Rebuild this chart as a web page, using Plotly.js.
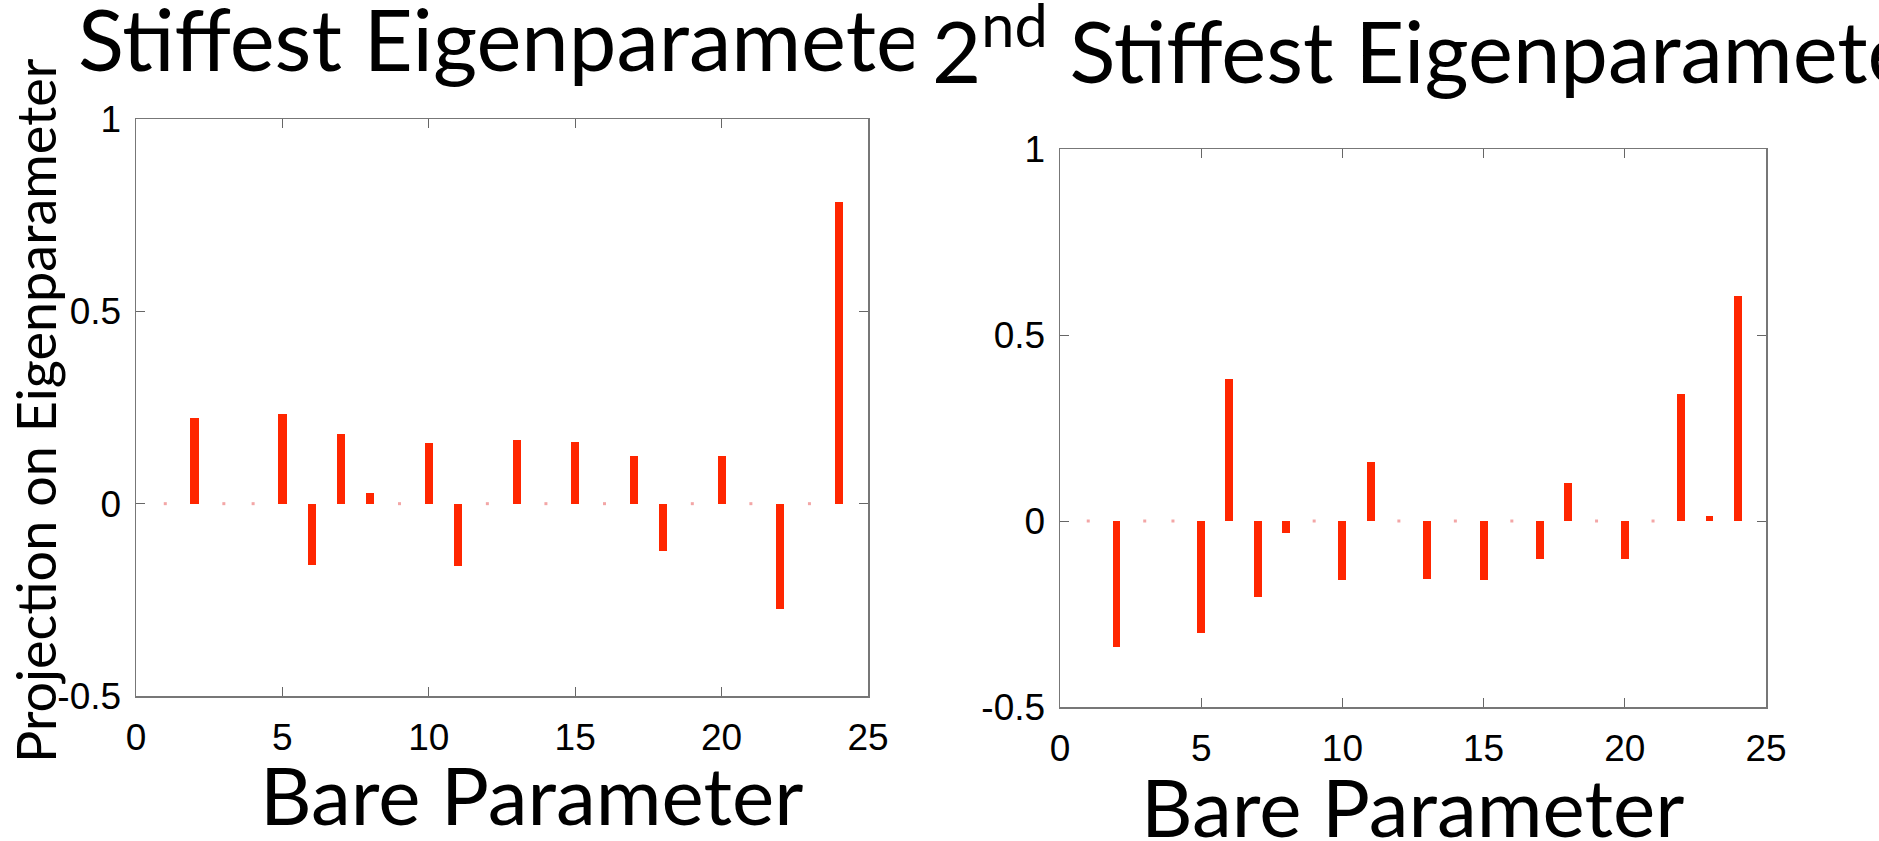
<!DOCTYPE html>
<html>
<head>
<meta charset="utf-8">
<script src="https://cdn.plot.ly/plotly-3.0.1.min.js"></script>
<style>html,body{margin:0;padding:0;background:#fff;}#chart{width:1879px;height:841px;}</style>
</head>
<body>
<div id="chart"></div>
<script>
// Data
const bareParams = [1,2,3,4,5,6,7,8,9,10,11,12,13,14,15,16,17,18,19,20,21,22,23,24];
const stiffest = [0,0.223,0,0,0.234,-0.160,0.181,0.027,0,0.159,-0.163,0,0.166,0,0.160,0,0.124,-0.122,0,0.124,0,-0.273,0,0.785];
const secondStiffest = [0,-0.338,0,0,-0.301,0.381,-0.203,-0.032,0,-0.159,0.159,0,-0.156,0,-0.159,0,-0.103,0.103,0,-0.102,0,0.341,0.014,0.605];
const xTicks = [0,5,10,15,20,25];
const yTicks = [-0.5,0,0.5,1];
const yTickText = ['-0.5','0','0.5','1'];
const titleLeft = 'Stiffest Eigenparameter';
const titleRight = '2<sup>nd</sup> Stiffest Eigenparameter';
const xTitle = 'Bare Parameter';
const yTitle = 'Projection on Eigenparameter';

const W = 1879, H = 841;
const px = v => v / W;
const py = v => 1 - v / H;
const barColor = '#ff2600';
const zeroColor = '#f3a6a6';
const titleFont = 'Lato, "Open Sans", sans-serif';
const tickFont = {family: '"Liberation Sans", Arial, sans-serif', size: 37, color: '#000'};

function zeros(vals) {
  const xs = [], ys = [];
  vals.forEach((v, i) => { if (v === 0) { xs.push(bareParams[i]); ys.push(0); } });
  return {xs, ys};
}
const z1 = zeros(stiffest), z2 = zeros(secondStiffest);

const traces = [
  {type: 'bar', x: bareParams, y: stiffest, width: 0.28, marker: {color: barColor, line: {width: 0}}, xaxis: 'x', yaxis: 'y', hoverinfo: 'x+y'},
  {type: 'scatter', mode: 'markers', x: z1.xs, y: z1.ys, marker: {color: zeroColor, size: 3, symbol: 'square'}, xaxis: 'x', yaxis: 'y', hoverinfo: 'skip'},
  {type: 'bar', x: bareParams, y: secondStiffest, width: 0.28, marker: {color: barColor, line: {width: 0}}, xaxis: 'x2', yaxis: 'y2', hoverinfo: 'x+y'},
  {type: 'scatter', mode: 'markers', x: z2.xs, y: z2.ys, marker: {color: zeroColor, size: 3, symbol: 'square'}, xaxis: 'x2', yaxis: 'y2', hoverinfo: 'skip'}
];

function xax(domain, anchor) {
  return {domain, anchor, range: [0, 25], tickvals: xTicks, ticks: 'inside', ticklen: 9, tickcolor: '#666',
    showline: true, linecolor: '#777', linewidth: 1.5, mirror: 'ticks', showgrid: false, zeroline: false,
    tickfont: tickFont, ticklabelstandoff: 8, fixedrange: true};
}
function yax(domain, anchor) {
  return {domain, anchor, range: [-0.5, 1], tickvals: yTicks, ticktext: yTickText, ticks: 'inside', ticklen: 9, tickcolor: '#666',
    showline: true, linecolor: '#777', linewidth: 1.5, mirror: 'ticks', showgrid: false, zeroline: false,
    tickfont: tickFont, ticklabelstandoff: 6, fixedrange: true};
}

const layout = {
  width: W, height: H,
  margin: {l: 0, r: 0, t: 0, b: 0},
  paper_bgcolor: '#fff', plot_bgcolor: '#fff',
  showlegend: false,
  bargap: 0,
  xaxis: xax([px(136), px(868)], 'y'),
  yaxis: yax([py(696), py(119)], 'x'),
  xaxis2: xax([px(1060), px(1766)], 'y2'),
  yaxis2: yax([py(707), py(149)], 'x2'),
  annotations: [
    {text: titleLeft, xref: 'paper', yref: 'paper', x: px(76), y: py(38), xanchor: 'left', yanchor: 'middle', showarrow: false,
     font: {family: titleFont, size: 85, color: '#000'}},
    {text: titleRight, xref: 'paper', yref: 'paper', x: px(913), y: py(44), xanchor: 'left', yanchor: 'middle', showarrow: false,
     bgcolor: '#fff', borderpad: 18, font: {family: titleFont, size: 85, color: '#000'}},
    {text: xTitle, xref: 'paper', yref: 'paper', x: px(531), y: py(794), xanchor: 'center', yanchor: 'middle', showarrow: false,
     font: {family: titleFont, size: 80, color: '#000'}},
    {text: xTitle, xref: 'paper', yref: 'paper', x: px(1412), y: py(806), xanchor: 'center', yanchor: 'middle', showarrow: false,
     font: {family: titleFont, size: 80, color: '#000'}},
    {text: yTitle, xref: 'paper', yref: 'paper', x: px(35), y: py(411), xanchor: 'center', yanchor: 'middle', showarrow: false, textangle: -90,
     font: {family: titleFont, size: 54, color: '#000'}}
  ]
};

Plotly.newPlot('chart', traces, layout, {displayModeBar: false, staticPlot: true});
</script>
</body>
</html>
